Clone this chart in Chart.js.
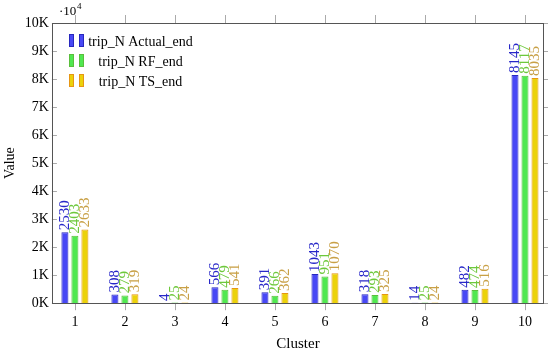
<!DOCTYPE html>
<html>
<head>
<meta charset="utf-8">
<script src="https://cdn.jsdelivr.net/npm/chart.js@4"></script>
<style>
  html, body { margin: 0; padding: 0; background: #fff; }
  #wrap { width: 550px; height: 352px; }
</style>
</head>
<body>
<div id="wrap"><canvas id="clusterChart"></canvas></div>
<script>
// data
const clusters = [1, 2, 3, 4, 5, 6, 7, 8, 9, 10];
const actualEnd = [2530, 308, 4, 566, 391, 1043, 318, 14, 482, 8145];
const rfEnd = [2403, 279, 25, 479, 266, 951, 293, 25, 474, 8117];
const tsEnd = [2633, 319, 24, 541, 362, 1070, 325, 24, 516, 8035];
const yTicks = [0, 1000, 2000, 3000, 4000, 5000, 6000, 7000, 8000, 9000, 10000];

const serif = '"Liberation Serif", "DejaVu Serif", serif';

function toPoints(values) {
    return values.map((v, i) => ({ x: clusters[i], y: v }));
}

// rotated value labels above each bar
const barLabels = {
    id: 'barLabels',
    afterDatasetsDraw(chart) {
        const ctx = chart.ctx;
        ctx.save();
        ctx.font = '15px ' + serif;
        ctx.textAlign = 'left';
        ctx.textBaseline = 'middle';
        chart.data.datasets.forEach((ds, i) => {
            chart.getDatasetMeta(i).data.forEach((bar, j) => {
                ctx.save();
                ctx.translate(bar.x, bar.y - 2);
                ctx.rotate(-Math.PI / 2);
                ctx.fillStyle = ds.labelColor;
                ctx.fillText(String(ds.data[j].y), 0, 0);
                ctx.restore();
            });
        });
        ctx.restore();
    }
};

// pgfplots-like frame, ticks, legend and exponent marker
const frame = {
    id: 'frame',
    afterDraw(chart) {
        const ctx = chart.ctx;
        const a = chart.chartArea;
        const x = chart.scales.x;
        const y = chart.scales.y;
        ctx.save();
        ctx.strokeStyle = '#aaa';
        ctx.lineWidth = 1;
        ctx.beginPath();
        clusters.forEach(c => {
            const px = Math.round(x.getPixelForValue(c)) + 0.5;
            ctx.moveTo(px, a.top);
            ctx.lineTo(px, a.top - 8);
            ctx.moveTo(px, a.bottom);
            ctx.lineTo(px, a.bottom + 7);
        });
        yTicks.forEach(v => {
            const py = Math.round(y.getPixelForValue(v)) + 0.5;
            ctx.moveTo(a.right, py);
            ctx.lineTo(a.right + 4, py);
            ctx.moveTo(a.left, py);
            ctx.lineTo(a.left + 5, py);
        });
        ctx.stroke();
        ctx.strokeStyle = '#555';
        ctx.strokeRect(Math.round(a.left) + 0.5, Math.round(a.top) + 0.5,
            Math.round(a.right - a.left) - 1, Math.round(a.bottom - a.top));

        // exponent marker
        ctx.fillStyle = '#000';
        ctx.font = '13px ' + serif;
        ctx.textBaseline = 'alphabetic';
        ctx.fillText('\u00b710', 59, 15);
        ctx.font = '9px ' + serif;
        ctx.fillText('4', 77, 9);

        // legend
        const rows = [41, 61, 81];
        chart.data.datasets.forEach((ds, i) => {
            const cy = rows[i];
            ctx.fillStyle = ds.backgroundColor;
            ctx.strokeStyle = ds.borderColor;
            [69, 79].forEach(bx => {
                ctx.fillRect(bx, cy - 7, 5, 13);
                ctx.strokeRect(bx + 0.5, cy - 6.5, 4, 12);
            });
            ctx.fillStyle = '#000';
            ctx.font = '14px ' + serif;
            ctx.textAlign = 'center';
            ctx.textBaseline = 'middle';
            ctx.fillText(ds.label, 140.5, cy + 1);
        });
        ctx.restore();
    }
};

const ctx = document.getElementById('clusterChart').getContext('2d');
new Chart(ctx, {
    type: 'bar',
    data: {
        datasets: [
            {
                label: 'trip_N Actual_end',
                data: toPoints(actualEnd),
                backgroundColor: 'rgb(72, 72, 245)',
                borderColor: 'rgb(40, 40, 190)',
                labelColor: 'rgb(40, 40, 200)',
                borderWidth: 1
            },
            {
                label: 'trip_N RF_end',
                data: toPoints(rfEnd),
                backgroundColor: 'rgb(80, 232, 80)',
                borderColor: 'rgb(90, 190, 60)',
                labelColor: 'rgb(110, 200, 60)',
                borderWidth: 1
            },
            {
                label: 'trip_N TS_end',
                data: toPoints(tsEnd),
                backgroundColor: 'rgb(235, 210, 10)',
                borderColor: 'rgb(230, 150, 20)',
                labelColor: 'rgb(200, 160, 70)',
                borderWidth: 1
            }
        ]
    },
    options: {
        responsive: true,
        maintainAspectRatio: false,
        animation: false,
        layout: { padding: { top: 23, right: 6, left: 2, bottom: 0 } },
        categoryPercentage: 0.6,
        barPercentage: 0.7,
        plugins: {
            legend: { display: false },
            tooltip: { enabled: false }
        },
        scales: {
            x: {
                type: 'linear',
                offset: false,
                min: 0.54,
                max: 10.38,
                afterBuildTicks(axis) { axis.ticks = clusters.map(v => ({ value: v })); },
                grid: { display: false, drawTicks: false },
                border: { display: false },
                ticks: { color: '#000', font: { family: serif, size: 14 }, padding: 11 },
                title: { display: true, text: 'Cluster', color: '#000', font: { family: serif, size: 15, lineHeight: 1 }, padding: { top: -5, bottom: 0 } }
            },
            y: {
                min: 0,
                max: 10000,
                afterBuildTicks(axis) { axis.ticks = yTicks.map(v => ({ value: v })); },
                grid: { display: false, drawTicks: false },
                border: { display: false },
                ticks: {
                    color: '#000',
                    font: { family: serif, size: 14 },
                    padding: 3,
                    callback: v => (v / 1000) + 'K'
                },
                title: { display: true, text: 'Value', color: '#000', font: { family: serif, size: 14 }, padding: { top: 0, bottom: 3 } }
            }
        }
    },
    plugins: [barLabels, frame]
});
</script>
</body>
</html>
